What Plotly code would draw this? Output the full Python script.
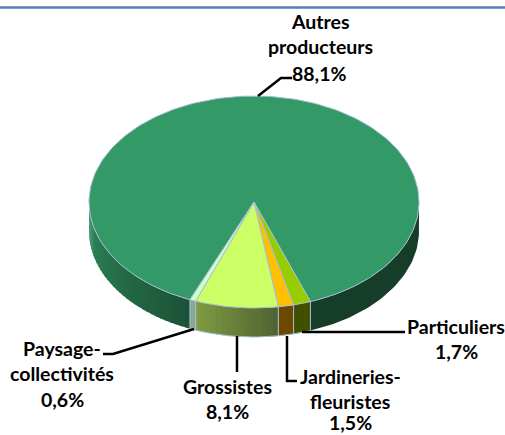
import math
import plotly.graph_objects as go

# Data
categories = ["Particuliers", "Jardineries-fleuristes", "Grossistes", "Paysage-collectivités", "Autres producteurs"]
values = [1.7, 1.5, 8.1, 0.6, 88.1]
top_colors = ["#99CC00", "#FFC000", "#CCFF66", "#CCFFCC", "#339966"]
side_left = ["#405000", "#6B4A00", "#7F9C42", "#8AA894", "#2F8A5C"]
side_right = ["#405000", "#6B4A00", "#4F6032", "#8AA894", "#1B5237"]
label_lines = [
    ["Particuliers", "1,7%"],
    ["Jardineries-", "fleuristes", "1,5%"],
    ["Grossistes", "8,1%"],
    ["Paysage-", "collectivités", "0,6%"],
    ["Autres", "producteurs", "88,1%"],
]

# Layout of the pie
W, H = 505, 435
CX, CY, RX, RY, DEPTH = 254, 202, 165, 106, 29
START = 160
EDGE = "#A4BDD6"
FONT = "Lato"
label_xy = [
    [(456, 326), (456, 351)],
    [(350, 376), (350, 401), (350, 422.5)],
    [(227, 386), (227, 411)],
    [(62, 348), (62, 373), (62, 399)],
    [(320, 21), (320, 46), (319, 73)],
]
leaders = [
    ([302, 405], [332, 332]),
    ([287, 287, 297], [336, 381, 381]),
    ([237, 237], [336, 372]),
    ([194, 113, 103], [329, 354, 354]),
    ([258, 281, 292], [96, 78, 78]),
]


def pt(theta, dy=0.0):
    t = math.radians(theta)
    return CX + RX * math.sin(t), CY - RY * math.cos(t) + dy


def mix(a, b, f):
    ca = [int(a[i:i + 2], 16) for i in (1, 3, 5)]
    cb = [int(b[i:i + 2], 16) for i in (1, 3, 5)]
    return "rgb(%d,%d,%d)" % tuple(round(x + (y - x) * f) for x, y in zip(ca, cb))


def arc(a0, a1, dy=0.0):
    n = max(2, int(abs(a1 - a0) / 1.5) + 2)
    return [pt(a0 + (a1 - a0) * i / (n - 1), dy) for i in range(n)]


fig = go.Figure()


def poly(points, fill, line=None, width=0.0):
    fig.add_trace(go.Scatter(
        x=[p[0] for p in points] + [points[0][0]],
        y=[p[1] for p in points] + [points[0][1]],
        mode="lines", fill="toself", fillcolor=fill,
        line=dict(color=line or fill, width=width),
        hoverinfo="skip", showlegend=False))


def stroke(xs, ys, color, width):
    fig.add_trace(go.Scatter(x=xs, y=ys, mode="lines",
                             line=dict(color=color, width=width),
                             hoverinfo="skip", showlegend=False))


# Angles of each slice from its value
total = sum(values)
bounds = [START]
for v in values:
    bounds.append(bounds[-1] + v / total * 360)

# Side wall
poly(arc(90, START) + arc(START, 90, DEPTH), "#163D2A")
for i, (a0, a1) in enumerate(zip(bounds[:-1], bounds[1:])):
    last = i == len(values) - 1
    vis0, vis1 = (a0, 270) if last else (a0, a1)
    step = 2.0
    # Far end first so each later strip overlaps its neighbour and hides seams
    th = vis1
    while th > vis0 + 1e-9:
        nx = max(th - step, vis0)
        f = (th - vis0) / max(vis1 - vis0, 1e-6)
        color = mix(side_right[i], side_left[i], f)
        poly(arc(nx, min(th + 0.7, vis1)) + arc(min(th + 0.7, vis1), nx, DEPTH), color)
        th = nx
    if not last:
        e = arc(a0, a1, DEPTH)
        stroke([p[0] for p in e], [p[1] for p in e], EDGE, 1)
for a in bounds[:5]:
    p = pt(a)
    stroke([p[0], p[0]], [p[1], p[1] + DEPTH], EDGE, 1)

# Top of the pie
for i in [4, 0, 1, 2, 3]:
    a0, a1 = bounds[i], bounds[i + 1]
    poly([(CX, CY)] + arc(a0, a1), top_colors[i], EDGE, 1)

# Leader lines
for xs, ys in leaders:
    stroke(xs, ys, "black", 2.5)

annotations = []
for lines, coords in zip(label_lines, label_xy):
    for text, (x, y) in zip(lines, coords):
        annotations.append(dict(x=x, y=y, xref="x", yref="y", text="<b>%s</b>" % text,
                                showarrow=False, xanchor="center", yanchor="middle",
                                font=dict(family=FONT, size=19.5, color="black")))

fig.update_layout(
    width=W, height=H, autosize=False,
    margin=dict(l=0, r=0, t=0, b=0),
    paper_bgcolor="white", plot_bgcolor="white",
    xaxis=dict(range=[0, W], visible=False, fixedrange=True),
    yaxis=dict(range=[H, 0], visible=False, fixedrange=True),
    annotations=annotations,
    shapes=[dict(type="line", x0=0, x1=W, y0=7.5, y1=7.5,
                 line=dict(color="#4F81BD", width=2.5))],
)
fig.write_html("out.html", config={"displayModeBar": False},
               post_script="document.body.style.margin='0';document.body.style.overflow='hidden';")
